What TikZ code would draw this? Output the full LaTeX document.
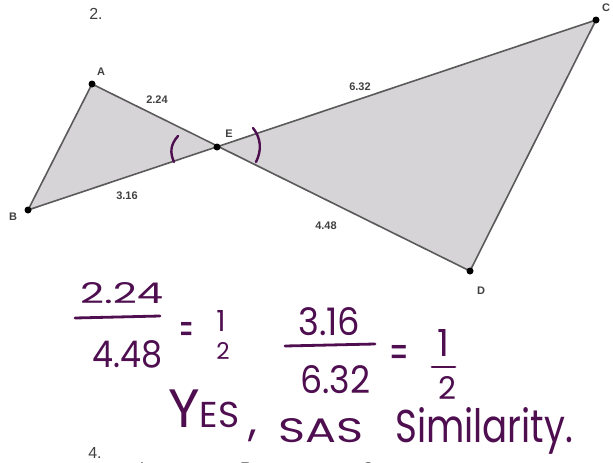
\documentclass[tikz,border=0pt]{standalone}
\usepackage{fontspec}
\setmainfont{Liberation Sans}
\newfontfamily\handfont{Poppins}
\definecolor{ink}{RGB}{78,14,80}
\definecolor{tri}{RGB}{214,212,214}
\definecolor{edge}{RGB}{90,90,90}
\tikzset{
  pt/.style={circle,fill=black,inner sep=0pt,minimum size=7pt},
  lbl/.style={font=\fontsize{11}{12}\selectfont\bfseries,text=black!75},
  hand/.style={font=\handfont\fontsize{30}{30}\selectfont,text=ink,inner sep=0pt,anchor=base west},
  handc/.style={font=\handfont\fontsize{30}{30}\selectfont,text=ink,inner sep=0pt},
  eqs/.style={font=\handfont\fontsize{36}{36}\selectfont,text=ink,inner sep=0pt},
  bar/.style={ink,line width=2.8pt,line cap=round},
  side/.style={edge,line width=1.6pt,line join=round},
  cut/.style={font=\fontsize{14}{16}\selectfont,text=black!75}
}
\begin{document}
\begin{tikzpicture}[x=1pt,y=-1pt]
\useasboundingbox (0,0) rectangle (613,463);
\clip (0,0) rectangle (613,463);
\coordinate (A) at (92,84);
\coordinate (B) at (28,210);
\coordinate (E) at (217,147);
\coordinate (C) at (596,20);
\coordinate (D) at (470,271);
\fill[tri] (A) -- (B) -- (E) -- cycle;
\fill[tri] (E) -- (C) -- (D) -- cycle;
\draw[side] (A) -- (B) -- (C) -- (D) -- cycle;
\node[pt] (pA) at (A) {};
\node[pt] (pB) at (B) {};
\node[pt] (pE) at (E) {};
\node[pt] (pC) at (C) {};
\node[pt] (pD) at (D) {};
\node[lbl] (lA) at (101,72) {A};
\node[lbl] (lB) at (13,217) {B};
\node[lbl] (lE) at (229,134) {E};
\node[lbl] (lC) at (606,8) {C};
\node[lbl] (lD) at (481,291) {D};
\node[lbl] (s1) at (157,100) {2.24};
\node[lbl] (s2) at (360,87) {6.32};
\node[lbl] (s3) at (127,196) {3.16};
\node[lbl] (s4) at (326,226) {4.48};
\node[font=\fontsize{16}{18}\selectfont,text=black!75] (n2) at (96,14) {2.};
% angle marks
\draw[ink,line width=2.4pt,line cap=round] (178,136) .. controls (170,145) and (170,153) .. (174,162);
\draw[ink,line width=2.4pt,line cap=round] (253,128) .. controls (261,138) and (262,150) .. (256,162);
% handwriting: first ratio
\node[hand] (f1n) at (80,303) {\resizebox{83pt}{21pt}{2.24}};
\draw[bar] (75,318) -- (160,316);
\node[hand] (f1d) at (92,367) {\resizebox{70pt}{27pt}{4.48}};
\node[eqs] (eq1) at (187,334) {\scalebox{0.55}[1.25]{=}};
\node[handc] (o1n) at (221,321) {\resizebox{!}{21pt}{1}};
\node[handc] (o1d) at (223,351) {\resizebox{!}{17pt}{2}};
% second ratio
\node[hand] (f2n) at (298,335) {\resizebox{62pt}{28pt}{3.16}};
\draw[bar] (285,346) -- (375,344);
\node[hand] (f2d) at (300,393) {\resizebox{70pt}{28pt}{6.32}};
\node[eqs] (eq2) at (399,357) {\scalebox{0.75}[1.25]{=}};
\node[handc] (o2n) at (443,343) {\resizebox{!}{27pt}{1}};
\draw[bar] (432,367) -- (455,367);
\node[handc] (o2d) at (447,388) {\resizebox{!}{23pt}{2}};
% conclusion
\node[hand] (yes) at (168,427) {{\fontsize{54}{54}\selectfont Y}{\fontsize{36}{36}\selectfont ES}};
\node[handc,font=\handfont\fontsize{44}{44}\selectfont] (comma) at (253,436) {,};
\node[hand] (sas) at (278,442) {\resizebox{85pt}{24pt}{SAS}};
\node[hand] (sim) at (395,442) {\resizebox{178pt}{35pt}{Similarity.}};
% next problem, cut off
\node[font=\fontsize{16}{18}\selectfont,text=black!75] (n4) at (95,453) {4.};
\node[cut] (bA) at (142,468) {A};
\node[cut] (bE) at (245,468) {E};
\node[cut] (bC) at (368,468) {C};
\end{tikzpicture}
\end{document}
